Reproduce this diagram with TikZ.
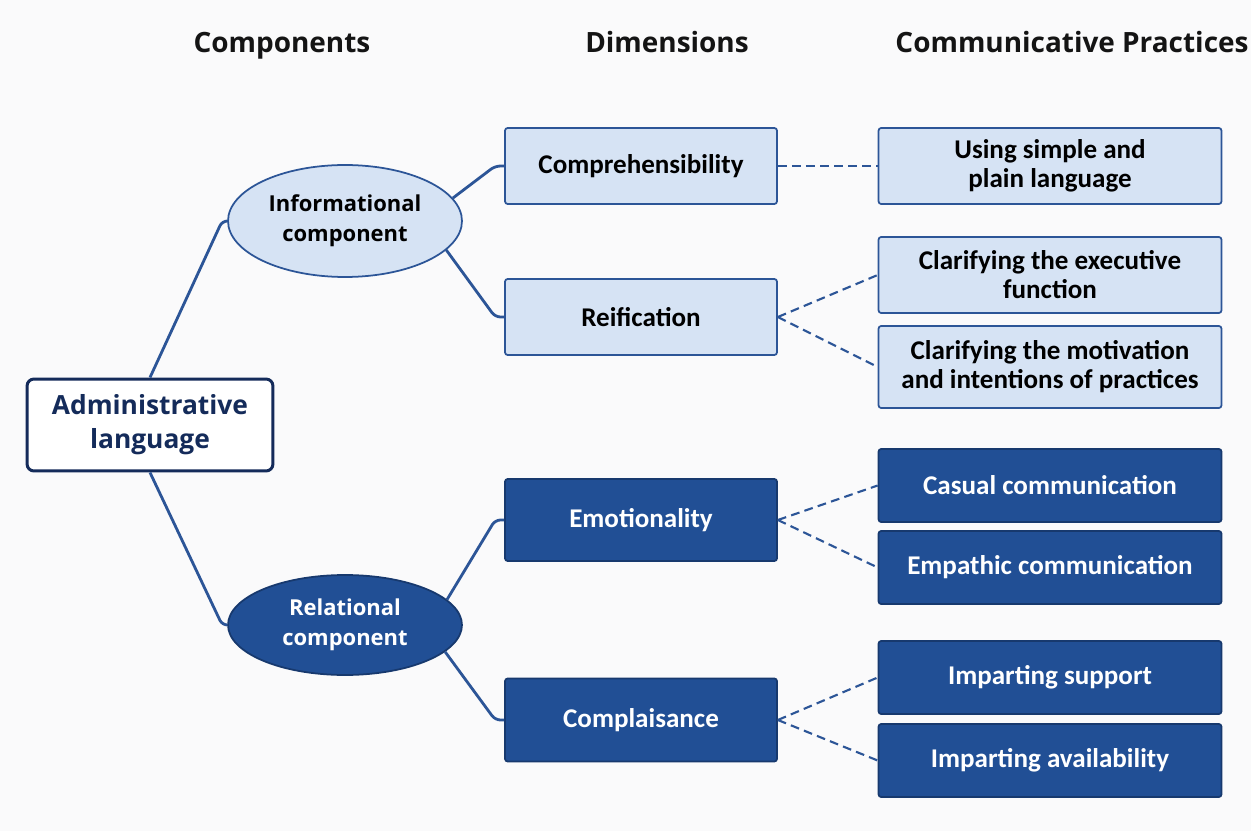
\documentclass[tikz,border=0pt]{standalone}
\usepackage{fontspec}
\setmainfont{Carlito}
\newfontfamily\headfont{Open Sans}
\usetikzlibrary{shapes.geometric}

\definecolor{lightfill}{HTML}{D6E3F4}
\definecolor{midblue}{HTML}{2C5597}
\definecolor{darkfill}{HTML}{214F95}
\definecolor{darkline}{HTML}{17396E}
\definecolor{navy}{HTML}{142B5A}
\definecolor{bgcol}{HTML}{FAFAFB}

\tikzstyle{heading} = [anchor=base, font=\headfont\bfseries\fontsize{15.9}{20}\selectfont, text=black!92]
\tikzstyle{rootblock} = [rectangle, rounded corners=4pt, minimum width=4.92cm, minimum height=1.84cm, align=center, draw=navy, line width=1.7pt, fill=white, text=navy, font=\headfont\bfseries\fontsize{15}{19.5}\selectfont]
\tikzstyle{compellipse} = [ellipse, minimum width=4.68cm, inner sep=0pt, align=center, line width=1pt, font=\headfont\bfseries\fontsize{12.5}{17}\selectfont]
\tikzstyle{lightellipse} = [compellipse, minimum height=2.24cm, draw=midblue, fill=lightfill, text=black]
\tikzstyle{darkellipse} = [compellipse, minimum height=2cm, draw=darkline, fill=darkfill, text=white]
\tikzstyle{custblock} = [rectangle, rounded corners=1.5pt, align=center, line width=1pt, font=\bfseries\fontsize{15.4}{16.5}\selectfont]
\tikzstyle{lightblock} = [custblock, draw=midblue, fill=lightfill, text=black]
\tikzstyle{darkblock} = [custblock, draw=darkline, fill=darkfill, text=white]
\tikzstyle{dimwidth} = [minimum width=5.44cm]
\tikzstyle{pracwidth} = [minimum width=6.86cm]
\tikzstyle{solidline} = [draw=midblue, line width=1.6pt, rounded corners=3pt]
\tikzstyle{dashline} = [draw=midblue, line width=1.2pt, dash pattern=on 5pt off 3pt]

\begin{document}
\begin{tikzpicture}[x=0.02cm, y=-0.02cm]
\fill [bgcol] (0,0) rectangle (1251,831);
\useasboundingbox (0,0) rectangle (1251,831);

%Column headings
\node (hcomp) [heading] at (282,53) {Components};
\node (hdim) [heading] at (667,53) {Dimensions};
\node (hprac) [heading] at (1072,53) {Communicative Practices};

%Root and components
\node (admin) [rootblock] at (150,425) {Administrative\\language};
\node (info) [lightellipse] at (345,221) {Informational\\component};
\node (rel) [darkellipse] at (345,625) {Relational\\component};

%Dimensions
\node (compr) [lightblock,dimwidth,minimum height=1.52cm] at (641,166) {Comprehensibility};
\node (reif) [lightblock,dimwidth,minimum height=1.52cm] at (641,317) {Reification};
\node (emot) [darkblock,dimwidth,minimum height=1.64cm] at (641,520) {Emotionality};
\node (compl) [darkblock,dimwidth,minimum height=1.66cm] at (641,720) {Complaisance};

%Communicative practices
\node (plain) [lightblock,pracwidth,minimum height=1.52cm] at (1050,166) {Using simple and\\plain language};
\node (exec) [lightblock,pracwidth,minimum height=1.52cm] at (1050,275) {Clarifying the executive\\function};
\node (motiv) [lightblock,pracwidth,minimum height=1.64cm] at (1050,367) {Clarifying the motivation\\and intentions of practices};
\node (casual) [darkblock,pracwidth,minimum height=1.46cm] at (1050,485.5) {Casual communication};
\node (empath) [darkblock,pracwidth,minimum height=1.46cm] at (1050,567.5) {Empathic communication};
\node (support) [darkblock,pracwidth,minimum height=1.46cm] at (1050,677.5) {Imparting support};
\node (avail) [darkblock,pracwidth,minimum height=1.46cm] at (1050,760.5) {Imparting availability};

%Solid branches
\draw [solidline] (admin.north) -- ([xshift=-0.1cm]info.west) -- (info.west);
\draw [solidline] (admin.south) -- ([xshift=-0.1cm]rel.west) -- (rel.west);
\draw [solidline] (info.12) -- ([xshift=-0.18cm]compr.west) -- (compr.west);
\draw [solidline] (info.-16) -- ([xshift=-0.18cm]reif.west) -- (reif.west);
\draw [solidline] (rel.14) -- ([xshift=-0.18cm]emot.west) -- (emot.west);
\draw [solidline] (rel.-15) -- ([xshift=-0.18cm]compl.west) -- (compl.west);

%Dashed links
\draw [dashline] (compr.east) -- (plain.west);
\draw [dashline] (reif.east) -- (exec.west);
\draw [dashline] (reif.east) -- (motiv.west);
\draw [dashline] (emot.east) -- (casual.west);
\draw [dashline] (emot.east) -- (empath.west);
\draw [dashline] (compl.east) -- (support.west);
\draw [dashline] (compl.east) -- (avail.west);
\end{tikzpicture}
\end{document}
